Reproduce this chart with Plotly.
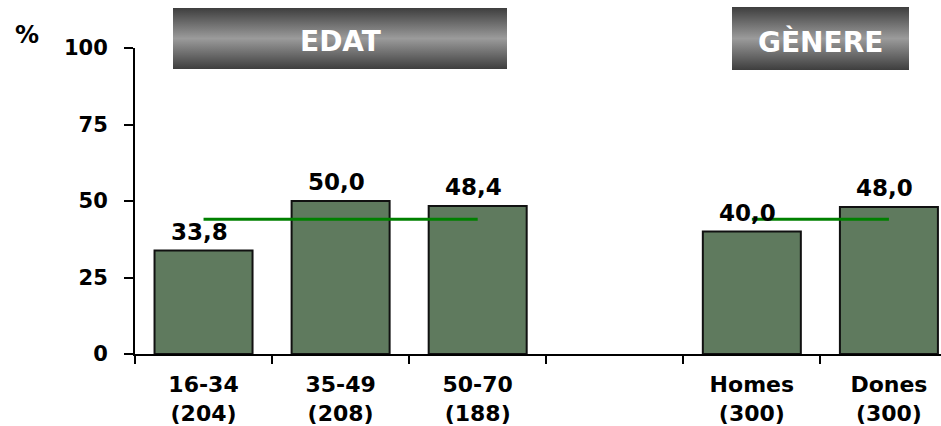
import plotly.graph_objects as go

# Survey results by age group and by gender (% of respondents)
age_groups = ["16-34", "35-49", "50-70"]
age_sizes = [204, 208, 188]
age_values = [33.8, 50.0, 48.4]

gender_groups = ["Homes", "Dones"]
gender_sizes = [300, 300]
gender_values = [40.0, 48.0]

overall_value = 44.0
y_tick_values = [0, 25, 50, 75, 100]
section_titles = ["EDAT", "GÈNERE"]

W, H = 941, 426
FONT = "DejaVu Sans"
BAR_COLOR = "#5f7a5e"
LINE_GREEN = "#008000"

spacer = " "
age_cats = [f"{g}<br>({n})" for g, n in zip(age_groups, age_sizes)]
gender_cats = [f"{g}<br>({n})" for g, n in zip(gender_groups, gender_sizes)]
categories = age_cats + [spacer] + gender_cats
bar_values = age_values + [None] + gender_values

# overall reference line drawn across each section (broken at the spacer)
line_y = [overall_value] * len(age_cats) + [None] + [overall_value] * len(gender_cats)

fig = go.Figure()

fig.add_trace(go.Bar(
    x=categories, y=bar_values,
    marker=dict(color=BAR_COLOR, line=dict(color="#111111", width=2)),
    hoverinfo="skip", showlegend=False,
))

fig.add_trace(go.Scatter(
    x=categories, y=line_y, mode="lines",
    line=dict(color=LINE_GREEN, width=3),
    connectgaps=False, hoverinfo="skip", showlegend=False,
))

# value labels above each bar (decimal comma)
for cat, v in zip(categories, bar_values):
    if v is None:
        continue
    fig.add_annotation(
        x=cat, y=v, xref="x", yref="y",
        text=f"{v:.1f}".replace(".", ","), showarrow=False,
        xanchor="center", yanchor="bottom", yshift=4, xshift=-4,
        font=dict(family=FONT, size=23, color="black", weight="bold"),
    )

# section header boxes with a vertical grey gradient
header_boxes = [
    (173 / W, 507 / W, 8 / H, 69 / H),
    (732 / W, 909 / W, 7 / H, 70 / H),
]
grad = [[0.0, "#3e3e3e"], [0.5, "#9b9b9b"], [1.0, "#3e3e3e"]]
for (x0, x1, y0, y1), title in zip(header_boxes, section_titles):
    fig.add_trace(go.Scatter(
        x=[x0, x1, x1, x0, x0], y=[y0, y0, y1, y1, y0],
        xaxis="x3", yaxis="y3", mode="lines", fill="toself",
        line=dict(width=0), fillgradient=dict(type="vertical", colorscale=grad),
        hoverinfo="skip", showlegend=False,
    ))
    fig.add_annotation(
        x=(x0 + x1) / 2, y=1 - (y0 + y1) / 2, xref="paper", yref="paper",
        text=title, showarrow=False, yshift=-3,
        font=dict(family=FONT, size=28, color="white", weight="bold"),
        xanchor="center", yanchor="middle",
    )

fig.add_annotation(
    x=27 / W, y=1 - 35 / H, xref="paper", yref="paper", text="%",
    showarrow=False, font=dict(family=FONT, size=24, color="black", weight="bold"),
    xanchor="center", yanchor="middle",
)

x_dom = [135 / W, 1.0]
y_dom = [72 / H, 378 / H]
x_range = [-0.5, 5.38]
y_tick_font = dict(family=FONT, size=21, color="black", weight="bold")
x_tick_font = dict(family=FONT, size=22, color="black", weight="bold")

fig.update_layout(
    width=W, height=H,
    margin=dict(l=0, r=0, t=0, b=0, autoexpand=False),
    paper_bgcolor="white", plot_bgcolor="rgba(0,0,0,0)",
    bargap=0.285,
    xaxis=dict(
        type="category", categoryorder="array", categoryarray=categories,
        domain=x_dom, range=x_range, anchor="y", automargin=False,
        showline=True, linecolor="black", linewidth=2,
        ticks="outside", ticklen=8, tickwidth=2, tickcolor="black",
        tickson="boundaries", showgrid=False, zeroline=False,
        tickfont=x_tick_font, ticklabelstandoff=10,
    ),
    xaxis2=dict(
        overlaying="x", anchor="y", range=x_range, domain=x_dom, automargin=False,
        tickmode="array", tickvals=[i - 0.5 for i in range(len(categories))],
        ticks="inside", ticklen=6, tickwidth=2, tickcolor="black",
        showticklabels=False, showline=False, showgrid=False, zeroline=False,
    ),
    yaxis=dict(
        domain=y_dom, range=[0, 100], anchor="x", automargin=False,
        tickmode="array", tickvals=y_tick_values,
        showline=True, linecolor="black", linewidth=2,
        ticks="outside", ticklen=9, tickwidth=2, tickcolor="black",
        showgrid=False, zeroline=False, tickfont=y_tick_font,
        ticklabelstandoff=12,
    ),
    yaxis2=dict(
        overlaying="y", anchor="x", range=[0, 100], domain=y_dom, side="left",
        automargin=False,
        tickmode="array", tickvals=y_tick_values,
        ticks="inside", ticklen=8, tickwidth=2, tickcolor="black",
        showticklabels=False, showline=False, showgrid=False, zeroline=False,
    ),
    xaxis3=dict(domain=[0, 1], range=[0, 1], anchor="y3", visible=False, automargin=False),
    yaxis3=dict(domain=[0, 1], range=[1, 0], anchor="x3", visible=False, automargin=False),
)

fig.write_html("out.html")
